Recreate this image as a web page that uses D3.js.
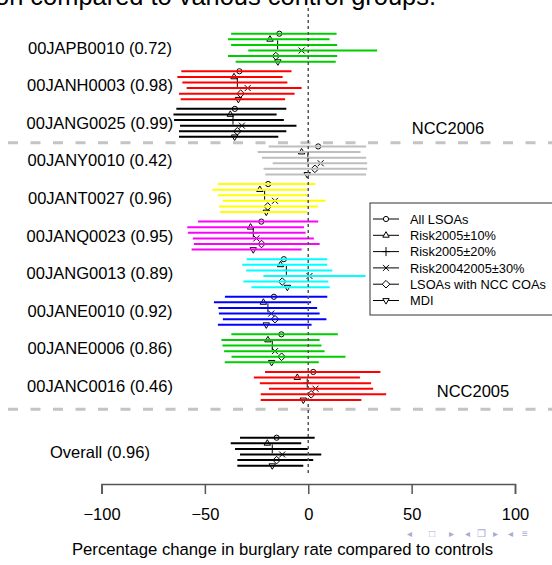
<!DOCTYPE html>
<html>
<head>
<meta charset="utf-8">
<script src="https://cdn.jsdelivr.net/npm/d3@7"></script>
<style>
	body { margin: 0; background: #fff; }
	svg { display: block; }
	text { font-family: "Liberation Sans", Arial, Helvetica, sans-serif; fill: #000; }
</style>
</head>
<body>
<svg id="chart" width="552" height="565"></svg>
<script>
/* Data */
const areas = [
	"00JAPB0010 (0.72)", "00JANH0003 (0.98)", "00JANG0025 (0.99)",
	"00JANY0010 (0.42)", "00JANT0027 (0.96)", "00JANQ0023 (0.95)",
	"00JANG0013 (0.89)", "00JANE0010 (0.92)", "00JANE0006 (0.86)",
	"00JANC0016 (0.46)", "Overall (0.96)"
];
const areaColours = [
	"#00cd00", "#ff0000", "#000000", "#bebebe", "#ffff00", "#ff00ff",
	"#00ffff", "#0000ff", "#00cd00", "#ff0000", "#000000"
];
const rowIndex = [0, 1, 2, 3, 4, 5, 6, 7, 8, 9, 10.75];
const controls = ["All LSOAs", "Risk2005±10%", "Risk2005±20%", "Risk20042005±30%", "LSOAs with NCC COAs", "MDI"];

// one row per area, one column per control group
const lower = [
	[-37.3, -38.8, -37.3, -29.0, -38.8, -35.1],
	[-61.4, -63.3, -60.9, -58.8, -62.5, -61.7],
	[-63.8, -65.2, -64.9, -62.0, -62.5, -62.5],
	[-19.2, -24.5, -22.4, -17.2, -21.6, -20.8],
	[-43.7, -46.4, -43.7, -41.3, -43.2, -42.7],
	[-53.3, -58.5, -58.2, -55.8, -55.3, -56.4],
	[-29.8, -31.9, -30.0, -21.7, -31.4, -27.5],
	[-40.3, -45.6, -43.5, -43.2, -41.3, -43.7],
	[-37.2, -42.0, -41.5, -40.7, -37.1, -40.4],
	[-20.9, -26.3, -23.4, -19.0, -23.0, -23.0],
	[-33.0, -37.5, -35.4, -33.0, -34.3, -34.3]
];
const upper = [
	[13.7, 10.3, 14.0, 33.3, 14.0, 13.3],
	[-8.1, -12.4, -10.1, -3.2, -6.6, -11.2],
	[-10.6, -15.3, -11.8, -5.7, -10.6, -14.5],
	[28.0, 25.3, 28.0, 28.5, 28.5, 28.0],
	[3.5, -0.5, -0.5, 8.4, 4.8, -0.5],
	[4.8, -2.1, -1.3, 2.7, 5.5, -3.2],
	[9.2, 9.2, 11.6, 27.7, 9.7, 10.4],
	[9.2, 1.4, 4.3, 5.5, 8.8, 1.6],
	[14.3, 5.5, 6.4, 7.9, 18.0, 5.1],
	[34.9, 25.0, 30.4, 31.4, 37.7, 25.7],
	[3.1, -3.4, -0.2, 6.3, 2.4, -2.4]
];
const estimate = [
	[-14.0, -18.5, -14.8, -3.2, -15.7, -14.7],
	[-33.3, -35.9, -34.3, -29.3, -32.7, -33.8],
	[-35.5, -37.7, -36.4, -32.1, -34.3, -35.6],
	[4.8, -3.2, -0.2, 6.0, 3.2, -0.5],
	[-19.4, -23.4, -21.1, -16.1, -19.6, -20.3],
	[-22.7, -27.9, -26.6, -25.1, -22.6, -26.6],
	[-11.8, -13.4, -10.6, 0.6, -12.6, -10.1],
	[-16.6, -21.7, -19.5, -17.9, -16.1, -20.3],
	[-13.0, -19.5, -17.4, -16.1, -12.9, -17.7],
	[2.4, -5.3, -0.5, 3.5, 1.4, -2.4],
	[-15.3, -19.8, -17.4, -12.6, -15.3, -17.4]
];
const dividers = [2.53, 9.62];
const periodLabels = [
	{ text: "NCC2006", row: 2, x: 448 },
	{ text: "NCC2005", row: 9, x: 473 }
];
const xTicks = [-100, -50, 0, 50, 100];

/* Layout */
const svg = d3.select("#chart");
const x = d3.scaleLinear().domain([-100, 100]).range([101.5, 515]);
const y = d3.scaleLinear().domain([0, 10.75]).range([47.7, 451.7]);
const lineGap = 5.6;

// open marker outlines in the style of R's pch 1, 2, 3, 4, 5, 6
const markers = [
	"M2.6,0A2.6,2.6 0 1 1 -2.6,0A2.6,2.6 0 1 1 2.6,0Z",
	"M0,-3.6L3.2,1.9L-3.2,1.9Z",
	"M-4,0H4M0,-4.5V4.5",
	"M-3,-3L3,3M-3,3L3,-3",
	"M0,-3.8L3.8,0L0,3.8L-3.8,0Z",
	"M0,3.6L3.2,-1.9L-3.2,-1.9Z"
];

/* Title fragment (cut at the top of the slide) */
svg.append("text")
	.attr("x", 436)
	.attr("y", 5)
	.attr("text-anchor", "end")
	.attr("font-size", 25)
	.attr("font-family", "'DejaVu Sans', sans-serif")
	.attr("textLength", 441)
	.attr("lengthAdjust", "spacingAndGlyphs")
	.text("on compared to various control groups.");

/* Period dividers */
svg.selectAll(".divider")
	.data(dividers)
	.enter().append("line")
	.attr("class", "divider")
	.attr("x1", 8).attr("x2", 552)
	.attr("y1", (d) => y(d)).attr("y2", (d) => y(d))
	.attr("stroke", "#c4c4c4")
	.attr("stroke-width", 3)
	.attr("stroke-dasharray", "10,12.5");

/* Area labels */
svg.selectAll(".area")
	.data(areas)
	.enter().append("text")
	.attr("class", "area")
	.attr("x", 100)
	.attr("y", (d, i) => y(rowIndex[i]))
	.attr("dy", "0.36em")
	.attr("text-anchor", "middle")
	.attr("font-size", 16.5)
	.text((d) => d);

svg.selectAll(".period")
	.data(periodLabels)
	.enter().append("text")
	.attr("class", "period")
	.attr("x", (d) => d.x)
	.attr("y", (d) => y(d.row) + 11)
	.attr("text-anchor", "middle")
	.attr("font-size", 16.5)
	.text((d) => d.text);

/* Intervals */
const rows = areas.map((a, i) => controls.map((c, k) => ({
	row: i,
	k: k,
	lo: lower[i][k],
	hi: upper[i][k],
	est: estimate[i][k],
	yPos: y(rowIndex[i]) + (k - 2.5) * lineGap
}))).flat();

svg.selectAll(".marker")
	.data(rows)
	.enter().append("path")
	.attr("class", "marker")
	.attr("transform", (d) => "translate(" + x(d.est) + "," + d.yPos + ")")
	.attr("d", (d) => markers[d.k])
	.attr("fill", "none")
	.attr("stroke", "#000")
	.attr("stroke-width", 1);

svg.selectAll(".ci")
	.data(rows)
	.enter().append("line")
	.attr("class", "ci")
	.attr("x1", (d) => x(d.lo))
	.attr("x2", (d) => x(d.hi))
	.attr("y1", (d) => d.yPos)
	.attr("y2", (d) => d.yPos)
	.attr("stroke", (d) => areaColours[d.row])
	.attr("stroke-width", 2);

/* Zero reference, on top of the intervals */
svg.append("line")
	.attr("x1", x(0)).attr("x2", x(0))
	.attr("y1", 8).attr("y2", 476)
	.attr("stroke", "#555")
	.attr("stroke-width", 1.5)
	.attr("stroke-dasharray", "3,3");

/* Legend */
const legend = svg.append("g").attr("transform", "translate(370,203)");
legend.append("rect")
	.attr("x", 0).attr("y", 0)
	.attr("width", 200).attr("height", 112)
	.attr("fill", "#fff")
	.attr("stroke", "#333")
	.attr("stroke-width", 1);

const items = legend.selectAll(".item")
	.data(controls)
	.enter().append("g")
	.attr("class", "item")
	.attr("transform", (d, i) => "translate(0," + (16 + i * 16.3) + ")");

items.append("line")
	.attr("x1", 3).attr("x2", 29)
	.attr("stroke", "#000").attr("stroke-width", 1);
items.append("path")
	.attr("transform", "translate(16,0)")
	.attr("d", (d, i) => markers[i])
	.attr("fill", "#fff")
	.attr("stroke", "#000")
	.attr("stroke-width", 1);
items.append("text")
	.attr("x", 40)
	.attr("dy", "0.36em")
	.attr("font-size", 12.8)
	.text((d) => d);

/* Axis */
const axis = svg.append("g")
	.attr("transform", "translate(0,484)")
	.call(d3.axisBottom(x)
		.tickValues(xTicks)
		.tickSize(10)
		.tickPadding(14)
		.tickFormat((d) => d < 0 ? "\u2212" + Math.abs(d) : d));

axis.select(".domain").attr("stroke", "#555").attr("stroke-width", 1.5);
axis.selectAll(".tick line").attr("stroke", "#555").attr("stroke-width", 1.5);
axis.selectAll(".tick text")
	.attr("font-size", 16.5)
	.attr("font-family", "'Liberation Sans', Arial, sans-serif")
	.attr("fill", "#000");

svg.append("text")
	.attr("x", 282.5)
	.attr("y", 555)
	.attr("text-anchor", "middle")
	.attr("font-size", 16.7)
	.text("Percentage change in burglary rate compared to controls");

/* Beamer navigation symbols */
const navGlyphs = ["\u25C2", "\u25A1", "\u25B8", "\u25C2", "\u2750", "\u25B8", "\u25C2", "\u2261"];
const navX = [407, 429, 449, 465, 477, 493, 508, 522];
svg.selectAll(".nav")
	.data(navGlyphs)
	.enter().append("text")
	.attr("class", "nav")
	.attr("x", (d, i) => navX[i])
	.attr("y", 537)
	.attr("font-size", 10)
	.style("fill", "#aaaad4")
	.text((d) => d);
</script>
</body>
</html>
